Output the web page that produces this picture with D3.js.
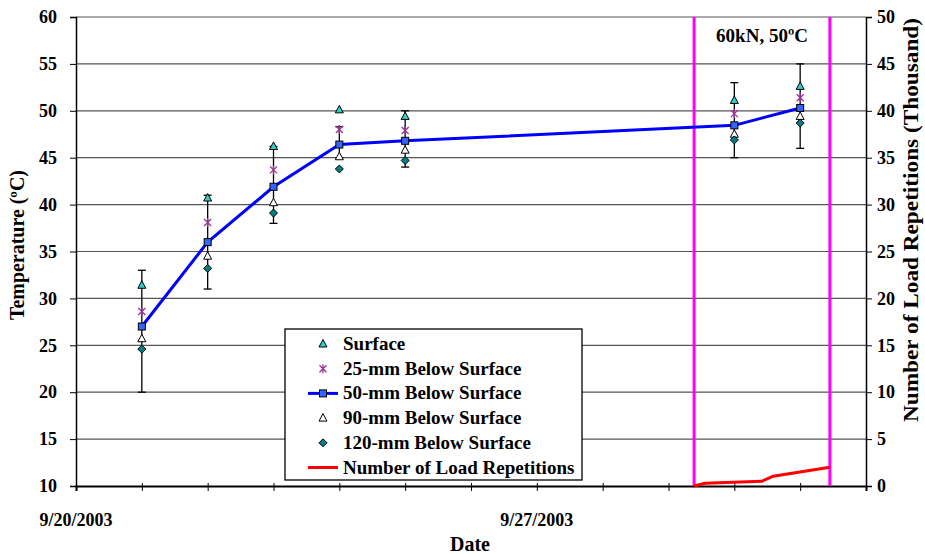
<!DOCTYPE html>
<html>
<head>
<meta charset="utf-8">
<title>Temperature and load repetitions</title>
<style>
body { margin: 0; background: #fff; }
text { font-family: 'Liberation Serif', 'Times New Roman', serif; font-weight: bold; fill: #000; }
.tick-label { font-size: 18px; }
.axis-title { font-size: 20px; }
.note { font-size: 19px; }
.legend-label { font-size: 19px; }
</style>
</head>
<body>
<svg width="925" height="554"></svg>
<script src="https://cdnjs.cloudflare.com/ajax/libs/d3/7.8.5/d3.min.js"></script>
<script>
// sampling dates (temperature readings)
var dates = ["2003-09-21", "2003-09-22", "2003-09-23", "2003-09-24", "2003-09-25", "2003-09-30", "2003-10-01"];
var surface = [31.4, 40.7, 46.2, 50.1, 49.4, 51.1, 52.6];
var below25 = [28.6, 38.1, 43.7, 48.0, 47.9, 49.7, 51.4];
var below50 = [27.0, 36.0, 41.9, 46.4, 46.8, 48.45, 50.3];
var below90 = [25.7, 34.5, 40.2, 45.1, 45.8, 47.5, 49.4];
var below120 = [24.6, 33.2, 39.1, 43.8, 44.7, 46.9, 48.7];
var errTop = [33.0, 41.0, 46.2, 48.3, 50.0, 53.0, 55.0];
var errBottom = [20.0, 31.0, 38.0, 45.0, 44.0, 45.0, 46.0];

// load repetitions (thousand)
var loadDates = ["2003-09-29T09:20", "2003-09-29T13:20", "2003-09-30T10:00", "2003-09-30T14:10", "2003-10-01T10:50"];
var loadReps = [0, 0.3, 0.5, 1.05, 2.0];
var loadPeriod = ["2003-09-29T09:20", "2003-10-01T10:50"];

var leftTicks = [10, 15, 20, 25, 30, 35, 40, 45, 50, 55, 60];
var rightTicks = [0, 5, 10, 15, 20, 25, 30, 35, 40, 45, 50];
var xLabelDates = ["2003-09-20", "2003-09-27"];
var xLabels = ["9/20/2003", "9/27/2003"];

var parseDay = d3.utcParse("%Y-%m-%d");
var parseTime = d3.utcParse("%Y-%m-%dT%H:%M");

var svg = d3.select("svg");
var plotLeft = 76, plotRight = 866, plotTop = 17, plotBottom = 486;

var x = d3.scaleUtc()
    .domain([parseDay("2003-09-20"), parseDay("2003-10-02")])
    .range([plotLeft, plotRight]);
var y = d3.scaleLinear().domain([10, 60]).range([plotBottom, plotTop]);
var y2 = d3.scaleLinear().domain([0, 50]).range([plotBottom, plotTop]);

// gridlines
svg.append("g").selectAll("line")
  .data(leftTicks.slice(1))
  .enter().append("line")
  .attr("x1", plotLeft).attr("x2", plotRight)
  .attr("y1", d => y(d)).attr("y2", d => y(d))
  .attr("stroke", "#555").attr("stroke-width", 1.2);

// left axis
var yAxis = svg.append("g")
  .attr("transform", `translate(${plotLeft},0)`)
  .call(d3.axisLeft(y).tickValues(leftTicks).tickSize(6).tickPadding(13));
yAxis.select(".domain").attr("stroke", "#000").attr("stroke-width", 1.5);
yAxis.selectAll(".tick text").attr("class", "tick-label");

// right axis
var y2Axis = svg.append("g")
  .attr("transform", `translate(${plotRight},0)`)
  .call(d3.axisRight(y2).tickValues(rightTicks).tickSize(6).tickPadding(5));
y2Axis.select(".domain").attr("stroke", "#000").attr("stroke-width", 1.5);
y2Axis.selectAll(".tick text").attr("class", "tick-label");

// bottom axis: daily minor ticks, weekly labels
var days = d3.utcDay.range(parseDay("2003-09-20"), d3.utcDay.offset(parseDay("2003-10-02"), 1));
var xAxis = svg.append("g")
  .attr("transform", `translate(0,${plotBottom})`)
  .call(d3.axisBottom(x).tickValues(days).tickSize(5).tickFormat(""));
xAxis.select(".domain").attr("stroke", "#000").attr("stroke-width", 2);
xAxis.selectAll(".tick line").attr("y1", -3);

svg.append("g").selectAll("text")
  .data(xLabelDates)
  .enter().append("text")
  .attr("class", "tick-label")
  .attr("x", d => x(parseDay(d)))
  .attr("y", plotBottom + 40)
  .attr("text-anchor", "middle")
  .text((d, i) => xLabels[i]);

// load period markers
svg.append("g").selectAll("line")
  .data(loadPeriod)
  .enter().append("line")
  .attr("x1", d => x(parseTime(d))).attr("x2", d => x(parseTime(d)))
  .attr("y1", plotTop).attr("y2", plotBottom)
  .attr("stroke", "#ff00ff").attr("stroke-width", 3);

svg.append("text")
  .attr("class", "note")
  .attr("x", (x(parseTime(loadPeriod[0])) + x(parseTime(loadPeriod[1]))) / 2)
  .attr("y", 42)
  .attr("text-anchor", "middle")
  .text("60kN, 50ºC");

// error bars
var eb = svg.append("g").selectAll("g")
  .data(dates)
  .enter().append("g");
eb.append("line")
  .attr("x1", d => x(parseDay(d))).attr("x2", d => x(parseDay(d)))
  .attr("y1", (d, i) => y(errTop[i])).attr("y2", (d, i) => y(errBottom[i]))
  .attr("stroke", "#000").attr("stroke-width", 1.3);
eb.selectAll("line.cap")
  .data((d, i) => [[d, errTop[i]], [d, errBottom[i]]])
  .enter().append("line")
  .attr("class", "cap")
  .attr("x1", d => x(parseDay(d[0])) - 4).attr("x2", d => x(parseDay(d[0])) + 4)
  .attr("y1", d => y(d[1])).attr("y2", d => y(d[1]))
  .attr("stroke", "#000").attr("stroke-width", 1.3);

// load repetitions line
var loadLine = d3.line()
  .x((d, i) => x(parseTime(loadDates[i])))
  .y(d => y2(d));
svg.append("path")
  .datum(loadReps)
  .attr("d", loadLine)
  .attr("fill", "none")
  .attr("stroke", "#ff0000")
  .attr("stroke-width", 3);

// 50-mm line
var tempLine = d3.line()
  .x((d, i) => x(parseDay(dates[i])))
  .y(d => y(d));
svg.append("path")
  .datum(below50)
  .attr("d", tempLine)
  .attr("fill", "none")
  .attr("stroke", "#0000ff")
  .attr("stroke-width", 3);

// marker drawing
function triangle(g, fill) {
  g.append("path").attr("d", "M0,-4.5L4,3L-4,3Z")
    .attr("fill", fill).attr("stroke", "#000").attr("stroke-width", 1);
}
function star(g) {
  g.append("path").attr("d", "M-3.5,-3.5L3.5,3.5M-3.5,3.5L3.5,-3.5M0,-4.5L0,4.5")
    .attr("fill", "none").attr("stroke", "#993399").attr("stroke-width", 1.3);
}
function square(g) {
  g.append("rect").attr("x", -3.5).attr("y", -3.5).attr("width", 7).attr("height", 7)
    .attr("fill", "#3366ff").attr("stroke", "#000").attr("stroke-width", 1);
}
function diamond(g) {
  g.append("path").attr("d", "M0,-4L4,0L0,4L-4,0Z")
    .attr("fill", "#008080").attr("stroke", "#000").attr("stroke-width", 1);
}

var series = [
  { name: "Surface", values: surface, draw: g => triangle(g, "#33cccc") },
  { name: "25-mm Below Surface", values: below25, draw: star },
  { name: "50-mm Below Surface", values: below50, draw: square, line: "#0000ff" },
  { name: "90-mm Below Surface", values: below90, draw: g => triangle(g, "#ffffff") },
  { name: "120-mm Below Surface", values: below120, draw: diamond },
  { name: "Number of Load Repetitions", line: "#ff0000" }
];

series.forEach(function (s) {
  if (!s.values) return;
  svg.append("g").selectAll("g")
    .data(s.values)
    .enter().append("g")
    .attr("transform", (d, i) => `translate(${x(parseDay(dates[i]))},${y(d)})`)
    .each(function () { s.draw(d3.select(this)); });
});

// legend
var legend = svg.append("g").attr("transform", "translate(285,329)");
legend.append("rect")
  .attr("width", 297).attr("height", 151)
  .attr("fill", "#fff").attr("stroke", "#000").attr("stroke-width", 1.3);
var items = legend.selectAll(".item")
  .data(series)
  .enter().append("g")
  .attr("class", "item")
  .attr("transform", (d, i) => `translate(0,${15 + i * 24.7})`);
items.filter(d => d.line).append("line")
  .attr("x1", 23).attr("x2", 53).attr("y1", 0).attr("y2", 0)
  .attr("stroke", d => d.line).attr("stroke-width", 3);
items.filter(d => d.draw).append("g")
  .attr("transform", "translate(38,0)")
  .each(function (d) { d.draw(d3.select(this)); });
items.append("text")
  .attr("class", "legend-label")
  .attr("x", 58).attr("y", 6)
  .text(d => d.name);

// axis titles
svg.append("text")
  .attr("class", "axis-title")
  .attr("transform", "translate(24,245) rotate(-90)")
  .attr("text-anchor", "middle")
  .attr("textLength", 150)
  .attr("lengthAdjust", "spacingAndGlyphs")
  .text("Temperature (ºC)");
svg.append("text")
  .attr("class", "axis-title")
  .attr("transform", "translate(918,220) rotate(-90)")
  .attr("text-anchor", "middle")
  .attr("textLength", 404)
  .attr("lengthAdjust", "spacingAndGlyphs")
  .text("Number of Load Repetitions (Thousand)");
svg.append("text")
  .attr("class", "axis-title")
  .attr("x", 470).attr("y", 551)
  .attr("text-anchor", "middle")
  .text("Date");
</script>
</body>
</html>
